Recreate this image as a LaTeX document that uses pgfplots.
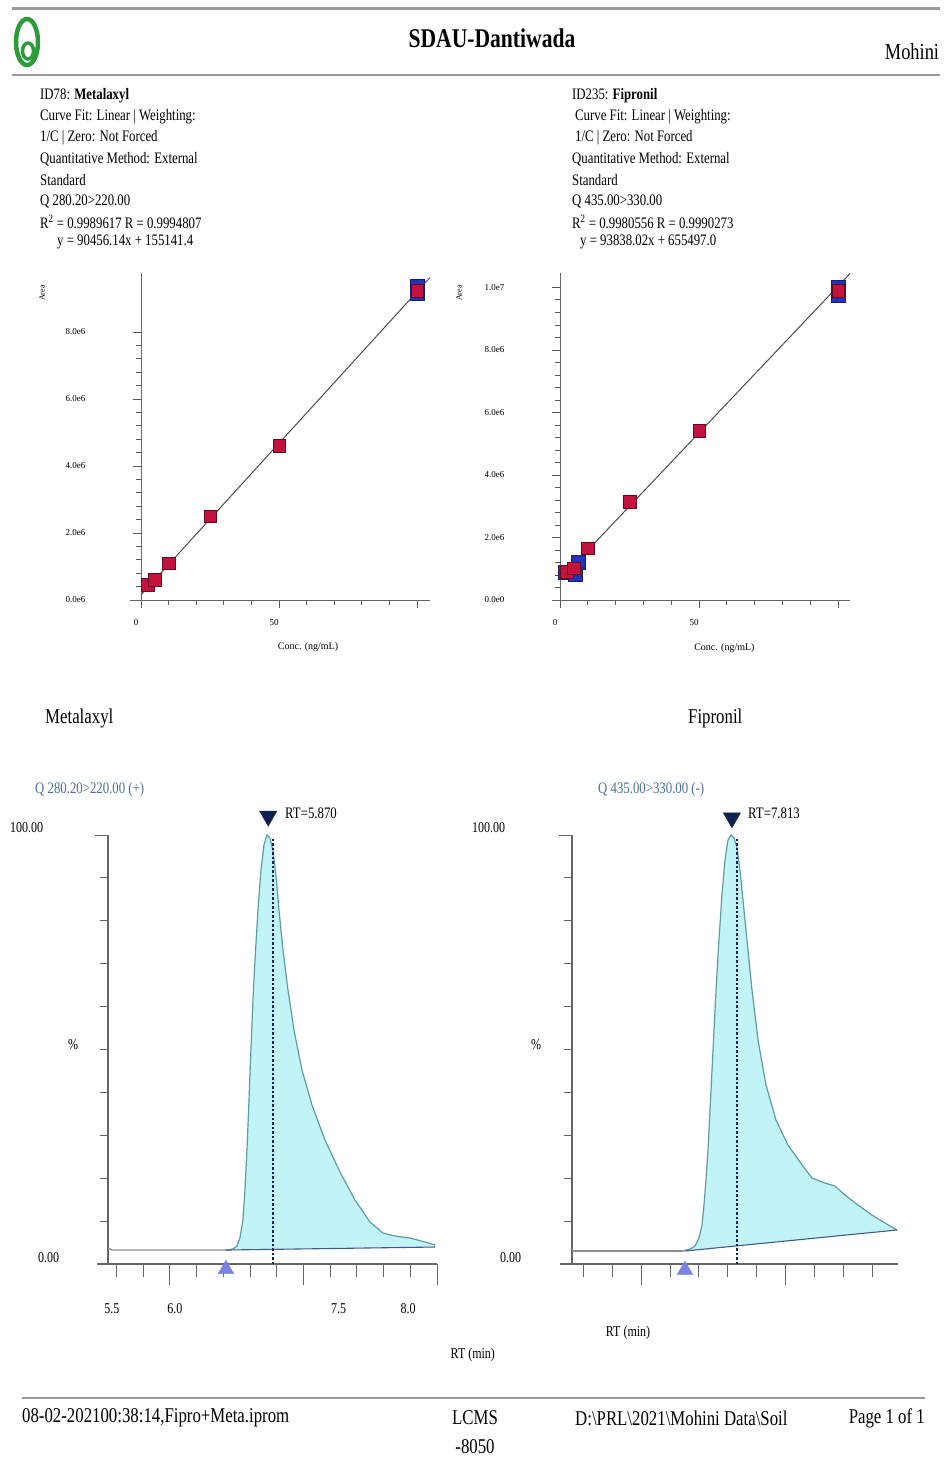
\documentclass[border=0pt]{standalone}
\usepackage{fontspec}
\setmainfont{Liberation Serif}[FakeStretch=0.8]
\newfontfamily\plainf{Liberation Serif}
\usepackage{pgfplots}
\pgfplotsset{compat=1.18}

\definecolor{peakfill}{HTML}{C2F3F7}
\definecolor{peakline}{HTML}{5E9CA4}
\definecolor{basegray}{HTML}{8C8C8C}
\definecolor{intline}{HTML}{3D5B8E}
\definecolor{navymark}{HTML}{0E2150}
\definecolor{lavmark}{HTML}{7A84E2}
\definecolor{qblue}{HTML}{4C6E9E}
\definecolor{ptred}{HTML}{C4123E}
\definecolor{ptblue}{HTML}{2233B8}
\definecolor{rulegray}{HTML}{9A9A9A}
\definecolor{logogreen}{HTML}{2E9B3A}

\newcommand{\fs}[1]{\fontsize{#1}{#1}\selectfont}

\pgfplotsset{
  calib/.style={
    scale only axis, height=327pt,
    axis lines*=left, axis line style={gray!80!black, line width=1pt, -},
    tick align=outside, major tick length=8pt, minor tick length=5pt,
    tick style={gray!70!black, line width=0.8pt},
    minor x tick num=4, minor y tick num=4,
    scaled ticks=false, ymin=0, xmin=0,
    xtick={0,50,100}, xticklabels={0,50,},
    ticklabel style={font=\plainf\fs{9}},
    yticklabel style={xshift=-44pt},
    xticklabel style={xshift=-5pt, yshift=-8pt},
    xlabel={Conc. (ng/mL)},
    clip=false,
  },
  chrom/.style={
    scale only axis, height=429pt, ymin=0, ymax=100,
    axis lines*=left, axis line style={black!60, line width=1.1pt, -},
    tick align=outside, tick style={black!60, line width=1pt},
    ytick={100}, yticklabels={}, minor ytick={10,20,...,90},
    major tick length=13pt, minor tick length=8pt,
    xticklabels={},
    clip=false,
  },
}

\begin{document}
\begin{tikzpicture}
\useasboundingbox (0,0) rectangle (946pt,-1460pt);

% header
\draw[rulegray, line width=3pt] (12pt,-8pt) -- (940pt,-8pt);
\draw[rulegray, line width=2.5pt] (12pt,-75pt) -- (940pt,-75pt);
\draw[logogreen, line width=4.5pt] (27pt,-42pt) ellipse (11pt and 23pt);
\draw[logogreen, line width=3.5pt] (28pt,-51pt) ellipse (5.5pt and 8pt);
\node[anchor=center, inner sep=0] at (492pt,-38pt) {\fs{27}\bfseries SDAU-Dantiwada};
\node[anchor=center, inner sep=0] at (912pt,-52pt) {\fs{23}Mohini};

% method text
\begin{scope}[every node/.style={anchor=west, inner sep=0}]
\node at (40pt,-96pt)  {\fs{16}ID78: \textbf{Metalaxyl}};
\node at (40pt,-117pt) {\fs{16}Curve Fit: Linear | Weighting:};
\node at (40pt,-138pt) {\fs{16}1/C | Zero: Not Forced};
\node at (40pt,-159pt) {\fs{16}Quantitative Method: External};
\node at (40pt,-180pt) {\fs{16}Standard};
\node at (40pt,-201pt) {\fs{16}Q 280.20>220.00};
\node at (40pt,-222pt) {\fs{16}R\textsuperscript{2} = 0.9989617 R = 0.9994807};
\node at (57pt,-242pt) {\fs{16}y = 90456.14x + 155141.4};
\node at (572pt,-96pt)  {\fs{16}ID235: \textbf{Fipronil}};
\node at (575pt,-117pt) {\fs{16}Curve Fit: Linear | Weighting:};
\node at (575pt,-138pt) {\fs{16}1/C | Zero: Not Forced};
\node at (572pt,-159pt) {\fs{16}Quantitative Method: External};
\node at (572pt,-180pt) {\fs{16}Standard};
\node at (572pt,-201pt) {\fs{16}Q 435.00>330.00};
\node at (572pt,-222pt) {\fs{16}R\textsuperscript{2} = 0.9980556 R = 0.9990273};
\node at (580pt,-242pt) {\fs{16}y = 93838.02x + 655497.0};
\end{scope}
\node[rotate=90, inner sep=0] at (42pt,-293pt) {\plainf\fs{8}Area};
\node[rotate=90, inner sep=0] at (459pt,-293pt) {\plainf\fs{8}Area};

% calibration Metalaxyl
\begin{axis}[calib, width=289pt, at={(141pt,-600pt)}, anchor=south west,
  xmax=104.7, ymax=9.76e6,
  ytick={0,2e6,4e6,6e6,8e6}, yticklabels={0.0e6,2.0e6,4.0e6,6.0e6,8.0e6},
  xlabel style={font=\plainf\fs{10}, at={(rel axis cs:0.578,0)}, anchor=center, yshift=-47pt}]
  \draw[gray!80!black, line width=1pt] (axis cs:-4,0) -- (axis cs:0,0);
  \addplot[gray!60!black, line width=1pt] coordinates {(0,155141) (101,9291211)};
  \addplot[blue!70, line width=1pt] coordinates {(101,9291211) (104.7,9625945)};
  \addplot[only marks, mark=square*, mark size=7pt, mark options={fill=ptblue, draw=ptblue!60!black}]
    coordinates {(100,9.38e6) (100,9.15e6)};
  \addplot[only marks, mark=square*, mark size=6.3pt, mark options={fill=ptred, draw=ptred!50!black}]
    coordinates {(2.5,0.45e6) (5,0.6e6) (10,1.1e6) (25,2.5e6) (50,4.6e6) (100,9.24e6)};
\end{axis}

% calibration Fipronil
\begin{axis}[calib, width=290pt, at={(560pt,-600pt)}, anchor=south west,
  xmax=104.3, ymax=10.46e6,
  ytick={0,2e6,4e6,6e6,8e6,1e7}, yticklabels={0.0e0,2.0e6,4.0e6,6.0e6,8.0e6,1.0e7},
  xlabel style={font=\plainf\fs{10}, at={(rel axis cs:0.567,0)}, anchor=center, yshift=-48pt}]
  \draw[gray!80!black, line width=1pt] (axis cs:-2.9,0) -- (axis cs:0,0);
  \addplot[gray!60!black, line width=1pt] coordinates {(0,655497) (104.3,10442300)};
  \addplot[only marks, mark=square*, mark size=7pt, mark options={fill=ptblue, draw=ptblue!60!black}]
    coordinates {(1.8,0.88e6) (6.5,1.2e6) (5.4,0.82e6) (100,9.75e6) (100,10.02e6)};
  \addplot[only marks, mark=square*, mark size=6.3pt, mark options={fill=ptred, draw=ptred!50!black}]
    coordinates {(2.5,0.9e6) (5,1.02e6) (10,1.66e6) (25,3.14e6) (50,5.41e6) (100,9.9e6)};
\end{axis}

% chromatogram titles
\node[anchor=west, inner sep=0] at (45pt,-718pt) {\fs{21}Metalaxyl};
\node[anchor=west, inner sep=0] at (688pt,-718pt) {\fs{21}Fipronil};
\node[anchor=west, inner sep=0, text=qblue] at (35pt,-790pt) {\fs{16}Q 280.20>220.00 (+)};
\node[anchor=west, inner sep=0, text=qblue] at (598pt,-790pt) {\fs{16}Q 435.00>330.00 (-)};
\node[anchor=west, inner sep=0] at (285pt,-813pt) {\fs{16}RT=5.870};
\node[anchor=west, inner sep=0] at (748pt,-813pt) {\fs{16}RT=7.813};
\begin{scope}[every node/.style={anchor=west, inner sep=0}]
\node at (10pt,-828pt) {\fs{15}100.00};
\node at (38pt,-1258pt) {\fs{15}0.00};
\node at (68pt,-1045pt) {\fs{15}\%};
\node at (472pt,-828pt) {\fs{15}100.00};
\node at (500pt,-1258pt) {\fs{15}0.00};
\node at (531pt,-1045pt) {\fs{15}\%};
\end{scope}

% chromatogram Metalaxyl
\begin{axis}[chrom, width=329pt, at={(108pt,-1264pt)}, anchor=south west,
  xmin=5.42, xmax=8.5,
  xtick={5.5,5.75,...,8.5},
  extra x ticks={5.457,6.047,7.58,8.23}, extra x tick labels={5.5,6.0,7.5,8.0},
  extra x tick style={tick style={draw=none}, tick label style={font=\fs{15}, yshift=-23pt}},
  xlabel={RT (min)},
  xlabel style={font=\fs{15}, at={(rel axis cs:1.109,0)}, anchor=center, yshift=-91pt}]
  \draw[black!60, line width=1.1pt] (axis cs:5.32,0) -- (axis cs:5.42,0);
  \draw[black!60, line width=1pt] (axis cs:6.0,0) -- ++(0pt,-21pt) (axis cs:7.25,0) -- ++(0pt,-21pt) (axis cs:8.5,0) -- ++(0pt,-21pt);
  \addplot[draw=none, fill=peakfill] coordinates {
    (6.543,3.26) (6.590,3.50) (6.627,4.20) (6.655,6.06) (6.683,10.26) (6.702,17.25)
    (6.721,26.57) (6.740,38.23) (6.758,49.88) (6.777,61.54) (6.796,70.86) (6.824,82.52)
    (6.852,91.84) (6.880,97.67) (6.908,100) (6.936,99.30) (6.964,96.50) (6.992,90.68)
    (7.021,82.52) (7.058,73.19) (7.105,63.87) (7.161,54.55) (7.236,45.22) (7.330,37.06)
    (7.451,28.90) (7.592,21.45) (7.732,14.92) (7.873,9.79) (7.994,7.23) (8.107,6.53)
    (8.247,6.06) (8.388,5.13) (8.481,4.43) (8.481,3.96) (6.524,3.26)} -- cycle;
  \addplot[basegray, line width=1.2pt] coordinates {(5.42,3.73) (5.457,3.26) (6.543,3.26)};
  \addplot[peakline, line width=1.2pt] coordinates {
    (6.543,3.26) (6.590,3.50) (6.627,4.20) (6.655,6.06) (6.683,10.26) (6.702,17.25)
    (6.721,26.57) (6.740,38.23) (6.758,49.88) (6.777,61.54) (6.796,70.86) (6.824,82.52)
    (6.852,91.84) (6.880,97.67) (6.908,100) (6.936,99.30) (6.964,96.50) (6.992,90.68)
    (7.021,82.52) (7.058,73.19) (7.105,63.87) (7.161,54.55) (7.236,45.22) (7.330,37.06)
    (7.451,28.90) (7.592,21.45) (7.732,14.92) (7.873,9.79) (7.994,7.23) (8.107,6.53)
    (8.247,6.06) (8.388,5.13) (8.481,4.43)};
  \addplot[intline, line width=1.1pt] coordinates {(6.524,3.26) (8.481,3.96)};
  \addplot[navymark, line width=1.5pt, dash pattern=on 2.5pt off 2pt] coordinates {(6.964,0) (6.964,99)};
  \addplot[only marks, mark=triangle*, mark size=10pt, mark options={fill=navymark, draw=navymark, rotate=180}]
    coordinates {(6.92,104.4)};
  \addplot[only marks, mark=triangle*, mark size=9pt, mark options={fill=lavmark, draw=lavmark}]
    coordinates {(6.524,-1.2)};
\end{axis}

% chromatogram Fipronil
\begin{axis}[chrom, width=326pt, at={(572pt,-1264pt)}, anchor=south west,
  xmin=6.405, xmax=9.216,
  xtick={6.5,6.75,...,9.0},
  xlabel={RT (min)},
  xlabel style={font=\fs{15}, at={(rel axis cs:0.172,0)}, anchor=center, yshift=-69pt}]
  \draw[black!60, line width=1.1pt] (axis cs:6.302,0) -- (axis cs:6.405,0);
  \draw[black!60, line width=1pt] (axis cs:7.0,0) -- ++(0pt,-21pt) (axis cs:8.25,0) -- ++(0pt,-21pt);
  \addplot[draw=none, fill=peakfill] coordinates {
    (7.362,3.03) (7.422,3.50) (7.466,4.20) (7.500,6.06) (7.526,9.09) (7.543,13.75)
    (7.560,19.58) (7.578,26.57) (7.595,35.90) (7.621,49.88) (7.647,63.87) (7.672,75.52)
    (7.698,86.01) (7.724,94.17) (7.750,98.83) (7.776,100) (7.802,99.30) (7.828,96.97)
    (7.853,91.84) (7.879,84.85) (7.914,75.52) (7.957,63.87) (8.009,52.21) (8.078,41.72)
    (8.164,33.57) (8.267,27.74) (8.371,23.78) (8.474,20.05) (8.586,18.88) (8.672,18.18)
    (8.759,16.08) (8.871,13.75) (8.991,11.42) (9.103,9.56) (9.207,7.93) (7.379,3.03)} -- cycle;
  \addplot[basegray, line width=1.2pt] coordinates {(6.405,3.03) (7.362,3.03)};
  \addplot[peakline, line width=1.2pt] coordinates {
    (7.362,3.03) (7.422,3.50) (7.466,4.20) (7.500,6.06) (7.526,9.09) (7.543,13.75)
    (7.560,19.58) (7.578,26.57) (7.595,35.90) (7.621,49.88) (7.647,63.87) (7.672,75.52)
    (7.698,86.01) (7.724,94.17) (7.750,98.83) (7.776,100) (7.802,99.30) (7.828,96.97)
    (7.853,91.84) (7.879,84.85) (7.914,75.52) (7.957,63.87) (8.009,52.21) (8.078,41.72)
    (8.164,33.57) (8.267,27.74) (8.371,23.78) (8.474,20.05) (8.586,18.88) (8.672,18.18)
    (8.759,16.08) (8.871,13.75) (8.991,11.42) (9.103,9.56) (9.207,7.93)};
  \addplot[intline, line width=1.1pt] coordinates {(7.379,3.03) (9.207,7.93)};
  \addplot[navymark, line width=1.5pt, dash pattern=on 2.5pt off 2pt] coordinates {(7.828,0) (7.828,99)};
  \addplot[only marks, mark=triangle*, mark size=10pt, mark options={fill=navymark, draw=navymark, rotate=180}]
    coordinates {(7.784,104)};
  \addplot[only marks, mark=triangle*, mark size=9pt, mark options={fill=lavmark, draw=lavmark}]
    coordinates {(7.379,-1.4)};
\end{axis}

% footer
\draw[rulegray, line width=2.5pt] (22pt,-1398pt) -- (925pt,-1398pt);
\node[anchor=west, inner sep=0] at (22pt,-1418pt) {\fs{21}08-02-202100:38:14,Fipro+Meta.iprom};
\node[anchor=center, inner sep=0] at (475pt,-1418pt) {\fs{21}LCMS};
\node[anchor=center, inner sep=0] at (475pt,-1447pt) {\fs{21}-8050};
\node[anchor=west, inner sep=0] at (575pt,-1418pt) {\fs{21}D:\textbackslash PRL\textbackslash 2021\textbackslash Mohini Data\textbackslash Soil};
\node[anchor=east, inner sep=0] at (925pt,-1418pt) {\fs{21}Page 1 of 1};
\end{tikzpicture}
\end{document}
